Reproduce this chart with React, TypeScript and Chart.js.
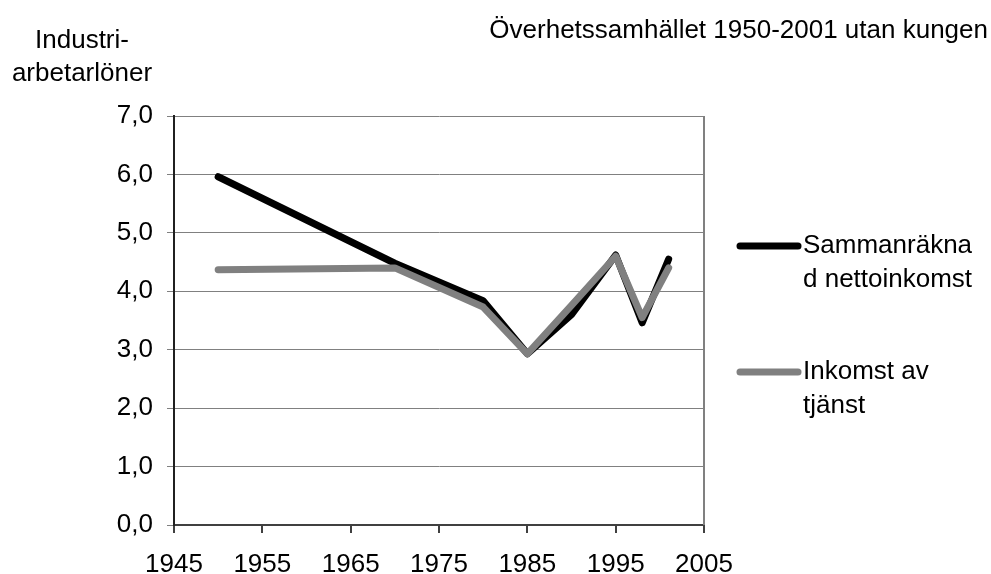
import React, { useEffect, useRef } from "react";
import { Chart, registerables } from "chart.js";

Chart.register(...registerables);

const years = [1950, 1970, 1980, 1985, 1990, 1995, 1998, 2001];
const sammanraknad = [5.96, 4.48, 3.84, 2.93, 3.6, 4.62, 3.46, 4.55];
const inkomstTjanst = [4.37, 4.4, 3.73, 2.93, 3.76, 4.6, 3.55, 4.4];
const seriesNames = ["Sammanräkna|d nettoinkomst", "Inkomst av|tjänst"];
const titleText = "Överhetssamhället 1950-2001 utan kungen";
const yTitleLines = ["Industri-", "arbetarlöner"];

const FONT = "'Liberation Sans', Arial, sans-serif";
const FS = 26;

const decorPlugin = {
  id: "decor",
  afterDraw(chart: any) {
    const ctx = chart.ctx;
    const area = chart.chartArea;
    ctx.save();
    // right border of plot area
    ctx.strokeStyle = "#808080";
    ctx.lineWidth = 2;
    ctx.beginPath();
    ctx.moveTo(area.right, area.top);
    ctx.lineTo(area.right, area.bottom);
    ctx.stroke();

    ctx.fillStyle = "#000";
    ctx.font = `${FS}px ${FONT}`;
    ctx.textBaseline = "middle";
    // title
    ctx.textAlign = "right";
    ctx.fillText(titleText, 988, 31);
    // y title
    ctx.textAlign = "center";
    ctx.fillText(yTitleLines[0], 82, 41);
    ctx.fillText(yTitleLines[1], 82, 74);

    // legend
    const items = [
      { color: "#000000", y: 246, name: seriesNames[0] },
      { color: "#808080", y: 372, name: seriesNames[1] },
    ];
    items.forEach((it) => {
      ctx.strokeStyle = it.color;
      ctx.lineWidth = 7;
      ctx.lineCap = "round";
      ctx.beginPath();
      ctx.moveTo(740, it.y);
      ctx.lineTo(798, it.y);
      ctx.stroke();
      ctx.textAlign = "left";
      const lines = it.name.split("|");
      lines.forEach((l, i) => {
        ctx.fillText(l, 803, it.y + i * 34);
      });
    });
    ctx.restore();
  },
};

export default function App() {
  const ref = useRef<HTMLCanvasElement>(null);
  useEffect(() => {
    document.body.style.margin = "0";
    const canvas = ref.current!;
    const chart = new Chart(canvas, {
      type: "line",
      data: {
        datasets: [
          {
            label: "Sammanräknad nettoinkomst",
            data: years.map((x, i) => ({ x, y: sammanraknad[i] })),
            borderColor: "#000000",
            backgroundColor: "#000000",
            borderWidth: 7,
            pointRadius: 0,
            borderCapStyle: "round",
            borderJoinStyle: "round",
            tension: 0,
            order: 1,
          },
          {
            label: "Inkomst av tjänst",
            data: years.map((x, i) => ({ x, y: inkomstTjanst[i] })),
            borderColor: "#808080",
            backgroundColor: "#808080",
            borderWidth: 7,
            pointRadius: 0,
            borderCapStyle: "round",
            borderJoinStyle: "round",
            tension: 0,
            order: 0,
          },
        ],
      },
      options: {
        animation: false,
        responsive: false,
        maintainAspectRatio: false,
        layout: { padding: { top: 116, right: 287, left: 0, bottom: 0 } },
        plugins: { legend: { display: false }, tooltip: { enabled: false } },
        scales: {
          x: {
            type: "linear",
            min: 1945,
            max: 2005,
            ticks: {
              stepSize: 10,
              color: "#000",
              font: { family: FONT, size: FS },
              padding: 16,
              maxRotation: 0,
              callback: (v: any) => String(v),
            },
            grid: {
              drawOnChartArea: false,
              drawTicks: true,
              tickLength: 8,
              color: "#404040",
              lineWidth: 2,
            },
            border: { color: "#404040", width: 2 },
            afterFit: (s: any) => {
              s.height = 49;
            },
          },
          y: {
            min: 0,
            max: 7,
            ticks: {
              stepSize: 1,
              color: "#000",
              font: { family: FONT, size: FS },
              padding: 14,
              callback: (v: any) => Number(v).toFixed(1).replace(".", ","),
            },
            grid: {
              color: "#808080",
              lineWidth: 1,
              tickLength: 7,
            },
            border: { color: "#202020", width: 2 },
            afterFit: (s: any) => {
              s.width = 174;
            },
          },
        },
      },
      plugins: [decorPlugin],
    } as any);
    return () => chart.destroy();
  }, []);
  return (
    <div style={{ width: 991, height: 574 }}>
      <canvas ref={ref} width={991} height={574} style={{ display: "block" }} />
    </div>
  );
}
